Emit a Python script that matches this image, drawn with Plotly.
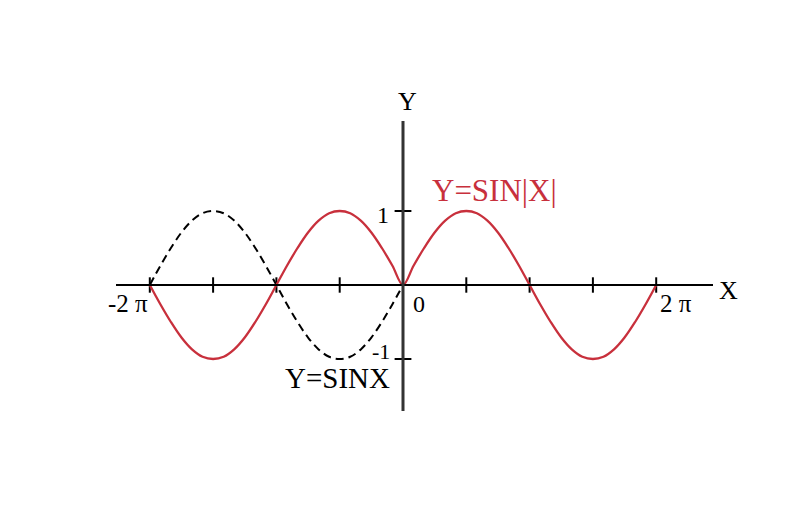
import math
import plotly.graph_objects as go

# x positions in units of pi/12
x_twelfths = list(range(-24, 25))
# y = sin|x| (every pi/12)
y_abs = [0, -0.26, -0.5, -0.71, -0.87, -0.97, -1, -0.97, -0.87, -0.71, -0.5, -0.26,
         0, 0.26, 0.5, 0.71, 0.87, 0.97, 1, 0.97, 0.87, 0.71, 0.5, 0.26,
         0,
         0.26, 0.5, 0.71, 0.87, 0.97, 1, 0.97, 0.87, 0.71, 0.5, 0.26,
         0, -0.26, -0.5, -0.71, -0.87, -0.97, -1, -0.97, -0.87, -0.71, -0.5, -0.26, 0]
# y = sin x on the left half (dashed)
x_sin_twelfths = list(range(-24, 1))
y_sin = [0, 0.26, 0.5, 0.71, 0.87, 0.97, 1, 0.97, 0.87, 0.71, 0.5, 0.26,
         0, -0.26, -0.5, -0.71, -0.87, -0.97, -1, -0.97, -0.87, -0.71, -0.5, -0.26, 0]

# tick marks on x axis (units of pi/2) and y axis
xtick_halfpi = [-4, -3, -2, -1, 1, 2, 3, 4]
ytick_vals = [1, -1]

PI = math.pi
xs = [v * PI / 12 for v in x_twelfths]
xs_sin = [v * PI / 12 for v in x_sin_twelfths]
xt = [v * PI / 2 for v in xtick_halfpi]

RED = "#c8303c"
SERIF = "Liberation Serif, Times New Roman, serif"

# page offset compensation
OX, OY = 7, 7
X0PX, Y0PX = 402 - OX, 284 - OY
SX, SY = 63.3, 74

def px_to_x(px):
    return (px - OX - X0PX) / SX * (PI / 2)

def px_to_y(py):
    return (Y0PX - (py - OY)) / SY

fig = go.Figure()

# axes drawn as shapes in data coordinates
fig.add_shape(type="line", x0=px_to_x(115), x1=px_to_x(712), y0=0, y1=0,
              line=dict(color="black", width=2))
fig.add_shape(type="line", x0=0, x1=0, y0=px_to_y(410), y1=px_to_y(120),
              line=dict(color="#333333", width=3))

fig.add_trace(go.Scatter(x=xt, y=[0] * len(xt), mode="markers",
                         marker=dict(symbol="line-ns", size=11,
                                     line=dict(color="black", width=2)),
                         hoverinfo="skip", showlegend=False))
fig.add_trace(go.Scatter(x=[0] * len(ytick_vals), y=ytick_vals, mode="markers",
                         marker=dict(symbol="line-ew", size=12,
                                     line=dict(color="black", width=2)),
                         hoverinfo="skip", showlegend=False))

fig.add_trace(go.Scatter(x=xs_sin, y=y_sin, mode="lines",
                         line=dict(color="black", width=2, dash="8px,5px",
                                   shape="spline"),
                         showlegend=False))
fig.add_trace(go.Scatter(x=xs, y=y_abs, mode="lines",
                         line=dict(color=RED, width=2.3, shape="spline"),
                         showlegend=False))

labels = [
    ("Y", 406, 100, 26, "black"),
    ("X", 727, 289, 26, "black"),
    ("1", 382, 214, 24, "black"),
    ("-1", 380, 350, 22, "black"),
    ("0", 418, 303, 24, "black"),
    ("-2 π", 127, 302, 25, "black"),
    ("2 π", 675, 302, 25, "black"),
    ("Y=SIN|X|", 493, 189, 31, RED),
    ("Y=SINX", 336, 377, 29, "black"),
]
for t, px, py, sz, col in labels:
    fig.add_annotation(x=px_to_x(px), y=px_to_y(py), text=t, showarrow=False,
                       font=dict(family=SERIF, size=sz, color=col),
                       xanchor="center", yanchor="middle")

fig.update_layout(
    width=804, height=531,
    margin=dict(l=0, r=0, t=0, b=0),
    paper_bgcolor="white", plot_bgcolor="white",
    xaxis=dict(range=[px_to_x(OX), px_to_x(804 + OX)], visible=False, fixedrange=True),
    yaxis=dict(range=[px_to_y(531 + OY), px_to_y(OY)], visible=False, fixedrange=True),
)

fig.write_html("out.html")
